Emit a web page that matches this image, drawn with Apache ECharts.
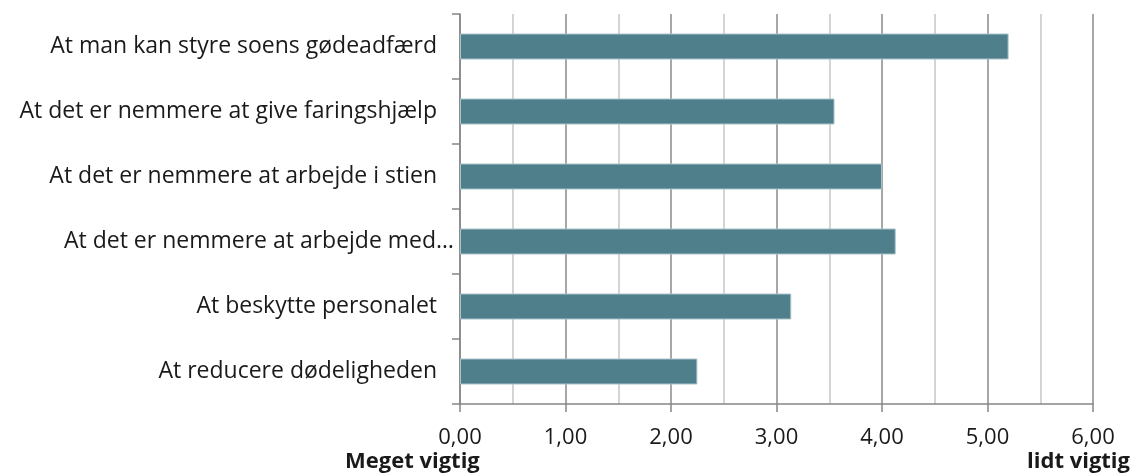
<!DOCTYPE html>
<html>
<head>
<meta charset="utf-8">
<script src="https://cdn.jsdelivr.net/npm/echarts@6/dist/echarts.min.js"></script>
<style>
html,body{margin:0;padding:0;background:#fff;}
#chart{width:1133px;height:473px;}
</style>
</head>
<body>
<div id="chart"></div>
<script>
const categories = [
  'At man kan styre soens gødeadfærd',
  'At det er nemmere at give faringshjælp',
  'At det er nemmere at arbejde i stien',
  'At det er nemmere at arbejde med…',
  'At beskytte personalet',
  'At reducere dødeligheden'
];
const values = [5.20, 3.55, 4.00, 4.13, 3.14, 2.25];
const xMin = 0, xMax = 6, xStep = 1;
const leftEndLabel = 'Meget vigtig';
const rightEndLabel = 'lidt vigtig';

const FONT = 'Open Sans';
const chart = echarts.init(document.getElementById('chart'), null, {renderer: 'canvas'});
chart.setOption({
  animation: false,
  backgroundColor: '#ffffff',
  grid: {left: 460, right: 40, top: 14, bottom: 69, containLabel: false},
  xAxis: {
    type: 'value', min: xMin, max: xMax, interval: xStep,
    axisLine: {show: true, lineStyle: {color: '#868686', width: 1.5}},
    axisTick: {show: true, length: 8, lineStyle: {color: '#868686', width: 1.5}},
    axisLabel: {
      margin: 23, color: '#1a1a1a', fontFamily: FONT, fontSize: 22,
      formatter: v => v.toFixed(2).replace('.', ',')
    },
    splitLine: {show: true, lineStyle: {color: '#8a8a8a', width: 1.5}},
    minorTick: {show: false, splitNumber: 2},
    minorSplitLine: {show: true, lineStyle: {color: '#c6c6c6', width: 1.5}}
  },
  yAxis: {
    type: 'category', data: categories, inverse: true,
    axisLine: {show: true, lineStyle: {color: '#868686', width: 1.5}},
    axisTick: {show: true, length: 8, lineStyle: {color: '#868686', width: 1.5}},
    splitLine: {show: false},
    axisLabel: {
      margin: 6, color: '#1a1a1a', fontFamily: FONT, fontSize: 23,
      formatter: v => v.endsWith('…') ? '{e|' + v + '}' : '{n|' + v + '}',
      rich: {
        n: {fontFamily: FONT, fontSize: 23, color: '#1a1a1a', padding: [0, 17, 0, 0]},
        e: {fontFamily: FONT, fontSize: 23, color: '#1a1a1a'}
      }
    }
  },
  series: [{
    type: 'bar', data: values, barCategoryGap: '60%',
    itemStyle: {color: '#4f7f8b', borderColor: '#a9c3ca', borderWidth: 1}
  }],
  graphic: [
    {type: 'text', left: 345, top: 451, style: {text: leftEndLabel, fontFamily: FONT, fontSize: 22, fontWeight: 'bold', fill: '#1a1a1a'}},
    {type: 'text', right: 3, top: 451, style: {text: rightEndLabel, fontFamily: FONT, fontSize: 22, fontWeight: 'bold', fill: '#1a1a1a'}}
  ]
});
</script>
</body>
</html>
